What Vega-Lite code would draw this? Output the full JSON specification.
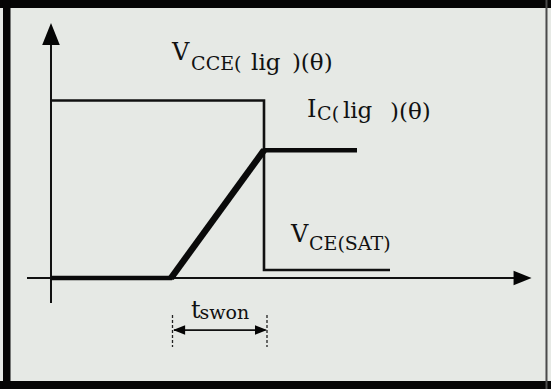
{
  "$schema": "https://vega.github.io/schema/vega-lite/v6.json",
  "width": 551,
  "height": 389,
  "autosize": {"type": "fit", "contains": "padding"},
  "padding": 0,
  "background": "#e6e9e5",
  "view": {"stroke": null, "fill": "#e6e9e5"},
  "config": {"axis": {"disable": true}},
  "datasets": {
    "frame": [
      {"side": "top", "t": -1.7, "t2": 16.667, "v": 15.21, "v2": 15.662},
      {"side": "bottom", "t": -1.7, "t2": 16.667, "v": -6.25, "v2": -5.8},
      {"side": "left", "t": -1.6, "t2": -1.35, "v": -6.25, "v2": 15.662},
      {"side": "right", "t": 16.483, "t2": 16.55, "v": -6.25, "v2": 15.662}
    ],
    "axes": [
      {"t": -0.8, "t2": 15.5, "v": 0, "v2": 0},
      {"t": 0, "t2": 0, "v": -1.4, "v2": 13.3}
    ],
    "vce": [
      {"seq": 1, "t": 0, "v": 10},
      {"seq": 2, "t": 7.1, "v": 10},
      {"seq": 3, "t": 7.1, "v": 0.45},
      {"seq": 4, "t": 11.3, "v": 0.45}
    ],
    "ic": [
      {"seq": 1, "t": 0, "v": 0},
      {"seq": 2, "t": 4, "v": 0},
      {"seq": 3, "t": 7.1, "v": 7.2},
      {"seq": 4, "t": 10.2, "v": 7.2}
    ],
    "dashes": [
      {"t": 4.05, "v": -2.08, "v2": -3.89},
      {"t": 7.2, "v": -2.08, "v2": -3.89}
    ],
    "dimline": [
      {"t": 4.1, "t2": 7.15, "v": -2.93}
    ],
    "heads": [
      {"kind": "yaxis", "t": 0, "v": 13.75},
      {"kind": "xaxis", "t": 15.72, "v": 0},
      {"kind": "dimleft", "t": 4.27, "v": -2.93},
      {"kind": "dimright", "t": 7.0, "v": -2.93}
    ],
    "labels": [
      {"role": "sym", "t": 4.03, "v": 12.28, "text": "V"},
      {"role": "sym", "t": 8.53, "v": 9.07, "text": "I"},
      {"role": "sym", "t": 8.0, "v": 2.03, "text": "V"},
      {"role": "sym", "t": 4.67, "v": -2.25, "text": "t"},
      {"role": "sub", "t": 4.67, "v": 11.72, "text": "CCE("},
      {"role": "sub", "t": 8.87, "v": 8.9, "text": "C("},
      {"role": "sub", "t": 8.6, "v": 1.58, "text": "CE(SAT)"},
      {"role": "sub", "t": 4.95, "v": -2.31, "text": "swon"},
      {"role": "arg", "t": 6.67, "v": 11.72, "text": "lig"},
      {"role": "arg", "t": 8.03, "v": 11.72, "text": ")(θ)"},
      {"role": "arg", "t": 9.73, "v": 9.01, "text": "lig"},
      {"role": "arg", "t": 11.3, "v": 8.96, "text": ")(θ)"}
    ]
  },
  "encoding": {
    "x": {"field": "t", "type": "quantitative", "axis": null, "scale": {"domain": [-1.7, 16.667], "nice": false, "zero": false}},
    "y": {"field": "v", "type": "quantitative", "axis": null, "scale": {"domain": [-6.25, 15.662], "nice": false, "zero": false}}
  },
  "layer": [
    {
      "data": {"name": "frame"},
      "mark": {"type": "rect"},
      "encoding": {
        "x2": {"field": "t2"},
        "y2": {"field": "v2"},
        "color": {"condition": {"test": "datum.side === 'right'", "value": "#4a4a4a"}, "value": "#050505"}
      }
    },
    {
      "data": {"name": "axes"},
      "mark": {"type": "rule", "color": "#111111", "strokeWidth": 2},
      "encoding": {"x2": {"field": "t2"}, "y2": {"field": "v2"}}
    },
    {
      "data": {"name": "vce"},
      "mark": {"type": "line", "color": "#111111", "strokeWidth": 2.6, "strokeJoin": "miter"},
      "encoding": {"order": {"field": "seq"}}
    },
    {
      "data": {"name": "ic"},
      "mark": {"type": "line", "color": "#0a0a0a", "strokeWidth": 4.5, "strokeJoin": "miter"},
      "encoding": {"order": {"field": "seq"}}
    },
    {
      "data": {"name": "ic"},
      "transform": [{"filter": {"field": "t", "range": [4, 7.1]}}],
      "mark": {"type": "line", "color": "#0a0a0a", "strokeWidth": 6.5},
      "encoding": {"order": {"field": "seq"}}
    },
    {
      "data": {"name": "dashes"},
      "mark": {"type": "rule", "color": "#222222", "strokeWidth": 1.3, "strokeDash": [3, 2]},
      "encoding": {"y2": {"field": "v2"}}
    },
    {
      "data": {"name": "dimline"},
      "mark": {"type": "rule", "color": "#111111", "strokeWidth": 1.8},
      "encoding": {"x2": {"field": "t2"}}
    },
    {
      "data": {"name": "heads"},
      "transform": [{"filter": "datum.kind === 'yaxis'"}],
      "mark": {"type": "point", "filled": true, "opacity": 1, "color": "#050505", "shape": "M0,-1L0.8,1L-0.8,1Z", "size": 484}
    },
    {
      "data": {"name": "heads"},
      "transform": [{"filter": "datum.kind === 'xaxis'"}],
      "mark": {"type": "point", "filled": true, "opacity": 1, "color": "#050505", "shape": "M1,0L-1,-0.8L-1,0.8Z", "size": 324}
    },
    {
      "data": {"name": "heads"},
      "transform": [{"filter": "datum.kind === 'dimleft'"}],
      "mark": {"type": "point", "filled": true, "opacity": 1, "color": "#050505", "shape": "M-1,0L1,-0.8L1,0.8Z", "size": 144}
    },
    {
      "data": {"name": "heads"},
      "transform": [{"filter": "datum.kind === 'dimright'"}],
      "mark": {"type": "point", "filled": true, "opacity": 1, "color": "#050505", "shape": "M1,0L-1,-0.8L-1,0.8Z", "size": 144}
    },
    {
      "data": {"name": "labels"},
      "transform": [{"filter": "datum.role === 'sym'"}],
      "mark": {"type": "text", "align": "left", "baseline": "alphabetic", "font": "DejaVu Serif", "fontSize": 24, "color": "#111111"},
      "encoding": {"text": {"field": "text"}}
    },
    {
      "data": {"name": "labels"},
      "transform": [{"filter": "datum.role === 'sub'"}],
      "mark": {"type": "text", "align": "left", "baseline": "alphabetic", "font": "DejaVu Serif", "fontSize": 19, "color": "#111111"},
      "encoding": {"text": {"field": "text"}}
    },
    {
      "data": {"name": "labels"},
      "transform": [{"filter": "datum.role === 'arg'"}],
      "mark": {"type": "text", "align": "left", "baseline": "alphabetic", "font": "DejaVu Serif", "fontSize": 23, "color": "#111111"},
      "encoding": {"text": {"field": "text"}}
    }
  ]
}
